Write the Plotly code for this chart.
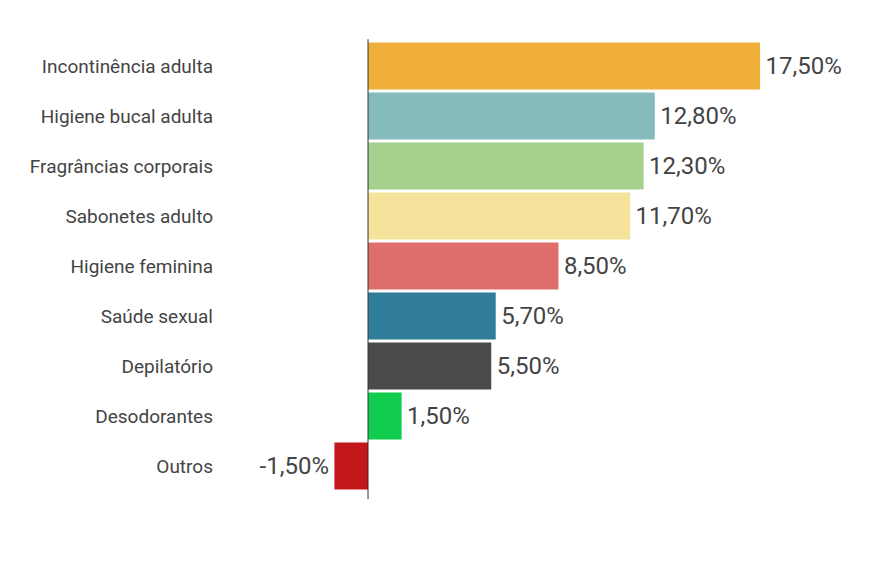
import plotly.graph_objects as go

categories = ["Incontinência adulta", "Higiene bucal adulta", "Fragrâncias corporais",
              "Sabonetes adulto", "Higiene feminina", "Saúde sexual", "Depilatório",
              "Desodorantes", "Outros"]
values = [17.5, 12.8, 12.3, 11.7, 8.5, 5.7, 5.5, 1.5, -1.5]
colors = ["#EFAF3A", "#86BBBD", "#A6D08E", "#F5E39C", "#DE6E6C", "#2F7D99",
          "#4A4A4A", "#12CC4F", "#C3171B"]

def fmt(v):
    s = f"{v:.2f}".replace(".", ",") + "%"
    return ("\u200a" + s) if v >= 0 else (s + "\u200a")

labels = [fmt(v) for v in values]

fig = go.Figure(go.Bar(
    x=values, y=categories, orientation="h",
    marker=dict(color=colors, line=dict(width=0)),
    text=labels, textposition="outside", constraintext="none", cliponaxis=False,
    textfont=dict(family="Roboto", size=24, color="#444444"),
))

fig.add_shape(type="line", xref="x", yref="paper", x0=0, x1=0, y0=-0.018, y1=1.004,
              line=dict(color="#333333", width=1))

fig.update_layout(
    width=877, height=574,
    margin=dict(l=214, r=17, t=41, b=83),
    paper_bgcolor="white", plot_bgcolor="white",
    bargap=0.06, showlegend=False,
    font=dict(family="Roboto", color="#444444"),
    xaxis=dict(range=[-6.875, 21.96], showgrid=False, zeroline=False, showticklabels=False,
               showline=False, ticks=""),
    yaxis=dict(autorange="reversed", showgrid=False, zeroline=False, showline=False,
               ticks="", tickfont=dict(family="Roboto", size=19, color="#444444")),
)

fig.write_html("out.html")
